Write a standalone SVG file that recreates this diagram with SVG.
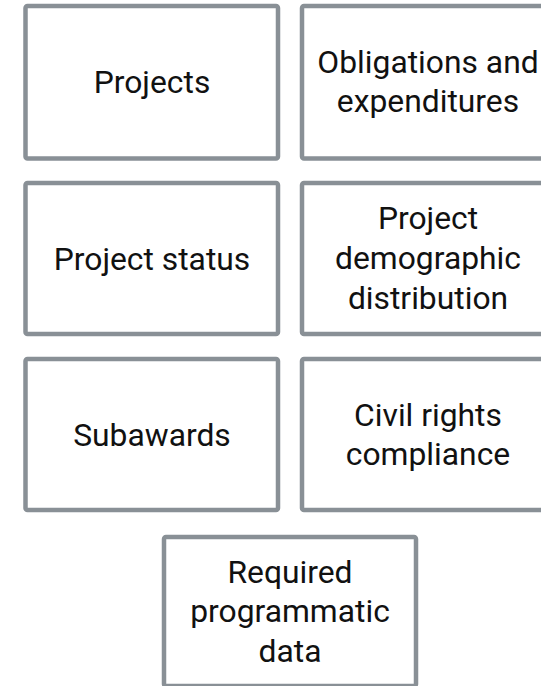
<svg xmlns="http://www.w3.org/2000/svg" width="541" height="686" viewBox="0 0 541 686">
<style>
.box{fill:#ffffff;stroke:#899096;stroke-width:4.5;}
.lbl{font-family:Roboto,"Liberation Sans",sans-serif;font-size:31.8px;fill:#111111;text-anchor:middle;}
</style>
<rect width="541" height="686" fill="#ffffff"/>
<g id="connectors"></g>
<g id="n1"><rect class="box" x="25.5" y="6" width="252.5" height="152.5" rx="2"/><text class="lbl" x="152" y="93">Projects</text></g>
<g id="n2"><rect class="box" x="302" y="6" width="253" height="152.5" rx="2"/><text class="lbl" x="428" y="73">Obligations and</text><text class="lbl" x="428" y="112">expenditures</text></g>
<g id="n3"><rect class="box" x="25.5" y="183" width="252.5" height="151" rx="2"/><text class="lbl" x="152" y="270">Project status</text></g>
<g id="n4"><rect class="box" x="302" y="183" width="253" height="151" rx="2"/><text class="lbl" x="428" y="229">Project</text><text class="lbl" x="428" y="269">demographic</text><text class="lbl" x="428" y="309">distribution</text></g>
<g id="n5"><rect class="box" x="25.5" y="359" width="252.5" height="151" rx="2"/><text class="lbl" x="152" y="446">Subawards</text></g>
<g id="n6"><rect class="box" x="302" y="359" width="253" height="151" rx="2"/><text class="lbl" x="428" y="426">Civil rights</text><text class="lbl" x="428" y="465">compliance</text></g>
<g id="n7"><rect class="box" x="164" y="537" width="252" height="149" rx="2"/><text class="lbl" x="290" y="583">Required</text><text class="lbl" x="290" y="622">programmatic</text><text class="lbl" x="290" y="662">data</text></g>
</svg>
